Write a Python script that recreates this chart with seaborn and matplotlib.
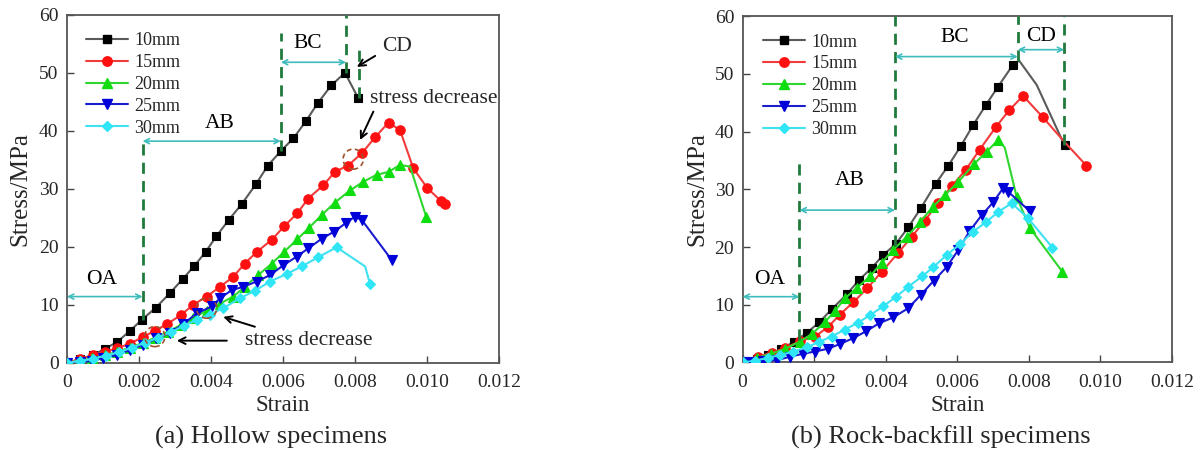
import matplotlib
matplotlib.use("Agg")
import matplotlib.pyplot as plt
from matplotlib.lines import Line2D
from matplotlib.patches import Ellipse
import seaborn as sns

# ---------------------------------------------------------------- data
series_names = ["10mm", "15mm", "20mm", "25mm", "30mm"]

# (a) hollow specimens
hollow_strain_10 = [0, 0.00036, 0.00071, 0.00106, 0.0014, 0.00175, 0.00208, 0.00247, 0.00286, 0.00321,
                    0.00354, 0.00385, 0.00415, 0.00449, 0.00486, 0.00525, 0.00558, 0.00594, 0.00629, 0.00663,
                    0.00697, 0.00734, 0.00772, 0.00809]
hollow_stress_10 = [0, 0.6, 1.3, 2.4, 3.6, 5.5, 7.4, 9.5, 12.0, 14.4,
                    16.7, 19.1, 21.8, 24.6, 27.4, 30.8, 34.0, 36.5, 38.7, 41.6,
                    44.8, 47.8, 50.0, 45.6]
hollow_strain_15 = [0, 0.00036, 0.00073, 0.00106, 0.0014, 0.00175, 0.0021, 0.00244, 0.00279, 0.00316,
                    0.00351, 0.00388, 0.00425, 0.0046, 0.00494, 0.00527, 0.00569, 0.00603, 0.0064, 0.0067,
                    0.00712, 0.00744, 0.00781, 0.0082, 0.00856, 0.00893, 0.00925, 0.00962, 0.01001, 0.0104,
                    0.0105]
hollow_stress_15 = [0, 0.6, 1.3, 1.9, 2.5, 3.3, 4.4, 5.5, 6.7, 8.2,
                    10.0, 11.4, 13.1, 14.7, 17.1, 19.1, 21.2, 23.5, 25.8, 28.3,
                    30.6, 32.9, 34.0, 36.2, 38.9, 41.4, 40.1, 33.5, 30.1, 27.8,
                    27.3]
hollow_strain_20 = [0, 0.00036, 0.0007, 0.00106, 0.0014, 0.00175, 0.0021, 0.00245, 0.0028, 0.00316,
                    0.0035, 0.00388, 0.00425, 0.00462, 0.00494, 0.00531, 0.00569, 0.00603, 0.0064, 0.00673,
                    0.00708, 0.00744, 0.00786, 0.00823, 0.0086, 0.00893, 0.00925, 0.00953, 0.00998]
hollow_stress_20 = [0, 0.3, 0.8, 1.3, 1.9, 2.6, 3.4, 4.3, 5.3, 6.5,
                    7.7, 9.0, 10.2, 11.4, 13.1, 15.1, 17.1, 19.1, 21.3, 23.3,
                    25.5, 27.6, 29.7, 31.2, 32.4, 32.9, 34.1, 33.8, 25.1]
hollow_strain_25 = [0, 0.00035, 0.00069, 0.00101, 0.00138, 0.00175, 0.00212, 0.00248, 0.00285, 0.00322,
                    0.0036, 0.00402, 0.00425, 0.00457, 0.0049, 0.00527, 0.00564, 0.00601, 0.00638, 0.0067,
                    0.00708, 0.00742, 0.00775, 0.008, 0.00819, 0.00902]
hollow_stress_25 = [0, 0.1, 0.3, 0.8, 1.3, 2.2, 3.1, 4.2, 5.1, 6.6,
                    8.5, 9.7, 11.1, 12.5, 13.1, 14.0, 15.1, 16.8, 18.3, 19.7,
                    21.4, 22.6, 24.1, 25.2, 24.6, 17.7]
hollow_strain_30 = [0, 0.00036, 0.00072, 0.00108, 0.00144, 0.0018, 0.00216, 0.00252, 0.00288, 0.00324,
                    0.0036, 0.00396, 0.00434, 0.0048, 0.00522, 0.00564, 0.0061, 0.00652, 0.00698, 0.00749,
                    0.00828, 0.00842]
hollow_stress_30 = [0, 0.3, 0.7, 1.2, 1.8, 2.6, 3.4, 4.3, 5.3, 6.3,
                    7.4, 8.3, 9.4, 11.1, 12.4, 14.0, 15.3, 16.6, 18.2, 19.9,
                    16.6, 13.5]

# (b) rock-backfill specimens
backfill_strain_10 = [0, 0.0004, 0.00072, 0.00108, 0.00144, 0.00179, 0.00215, 0.00249, 0.00291, 0.00326,
                      0.00361, 0.00393, 0.00429, 0.00463, 0.00498, 0.0054, 0.00575, 0.0061, 0.00645, 0.0068,
                      0.00714, 0.00756, 0.00773, 0.00822, 0.009]
backfill_stress_10 = [0, 0.6, 1.3, 2.3, 3.6, 5.1, 7.0, 9.2, 11.8, 14.3,
                      16.4, 18.6, 20.6, 23.4, 26.7, 31.0, 34.1, 37.5, 41.2, 44.6,
                      47.8, 51.6, 52.3, 48.1, 37.6]
backfill_strain_15 = [0, 0.00044, 0.00082, 0.00119, 0.00161, 0.00203, 0.0024, 0.00272, 0.00309, 0.00349,
                      0.00389, 0.00435, 0.00473, 0.0051, 0.00547, 0.00584, 0.00624, 0.00663, 0.00708, 0.00745,
                      0.00784, 0.00839, 0.009, 0.00961]
backfill_stress_15 = [0, 1.0, 1.7, 2.5, 3.7, 4.5, 6.2, 8.3, 10.4, 12.9,
                      15.7, 19.0, 21.8, 24.6, 27.7, 30.5, 33.4, 36.9, 40.8, 43.7,
                      46.2, 42.5, 38.2, 34.1]
backfill_strain_20 = [0, 0.0004, 0.0008, 0.0012, 0.0016, 0.00195, 0.0023, 0.00258, 0.00286, 0.00319,
                      0.00356, 0.00389, 0.00421, 0.00459, 0.00496, 0.00532, 0.00566, 0.00603, 0.00647, 0.00682,
                      0.00715, 0.00733, 0.00766, 0.00803, 0.00894]
backfill_stress_20 = [0, 0.8, 1.5, 2.4, 3.6, 5.0, 7.0, 8.9, 11.1, 12.9,
                      14.9, 17.3, 19.5, 21.8, 24.3, 27.0, 29.0, 31.3, 34.4, 36.5,
                      38.6, 37.2, 28.7, 23.3, 15.7]
backfill_strain_25 = [0, 0.0002, 0.00058, 0.00096, 0.00133, 0.00168, 0.00203, 0.0024, 0.00272, 0.00309,
                      0.00345, 0.00382, 0.00421, 0.00463, 0.00498, 0.00535, 0.0057, 0.00603, 0.00634, 0.00668,
                      0.00701, 0.00728, 0.00742, 0.00803]
backfill_stress_25 = [0, 0.1, 0.2, 0.4, 1.0, 1.5, 1.9, 2.4, 3.2, 4.2,
                      5.4, 6.8, 7.8, 9.4, 11.7, 14.2, 16.5, 19.5, 22.7, 25.5,
                      27.8, 30.2, 29.6, 26.2]
backfill_strain_30 = [0, 0.00035, 0.0007, 0.00106, 0.00142, 0.00179, 0.00215, 0.00249, 0.00286, 0.00323,
                      0.00356, 0.00393, 0.00429, 0.00463, 0.00501, 0.00533, 0.0057, 0.00608, 0.00643, 0.0068,
                      0.00715, 0.00752, 0.00798, 0.00866]
backfill_stress_30 = [0, 0.3, 0.8, 1.3, 1.9, 2.6, 3.6, 4.5, 5.7, 6.9,
                      8.2, 9.7, 11.4, 13.1, 14.9, 16.5, 18.6, 20.5, 22.6, 24.3,
                      26.1, 27.6, 25.0, 19.9]

# indices of curve points drawn without a marker
hollow_plain = [[], [], [27], [], [20]]
backfill_plain = [[22, 23], [22], [21], [], []]

x_ticks = [0, 0.002, 0.004, 0.006, 0.008, 0.010, 0.012]
x_tick_labels = ["0", "0.002", "0.004", "0.006", "0.008", "0.010", "0.012"]
y_ticks = [0, 10, 20, 30, 40, 50, 60]

# stage boundaries: (strain, lower stress, upper stress)
hollow_bounds = [(0.0021, 7.4, 39.0), (0.00594, 36.5, 56.8), (0.00775, 50.0, 60.0), (0.00811, 45.6, 54.6)]
backfill_bounds = [(0.00159, 3.9, 35.4), (0.00426, 20.1, 60.0), (0.00769, 52.3, 60.0), (0.00899, 37.6, 60.0)]
# stage spans: (label, start, end, arrow stress, label x, label y)
hollow_stages = [("OA", 0.0, 0.0021, 11.4, 0.00096, 14.3),
                 ("AB", 0.0021, 0.00594, 38.2, 0.00425, 41.3),
                 ("BC", 0.00594, 0.00775, 51.8, 0.0067, 55.0)]
backfill_stages = [("OA", 0.0, 0.00159, 11.4, 0.00077, 14.3),
                   ("AB", 0.00159, 0.00426, 26.4, 0.0030, 31.6),
                   ("BC", 0.00426, 0.00769, 53.0, 0.00594, 56.3),
                   ("CD", 0.00769, 0.00899, 54.2, 0.00834, 56.4)]

# ---------------------------------------------------------------- style
sns.set_theme(style="white")
plt.rcParams["font.family"] = ["Liberation Serif", "DejaVu Serif"]

line_colors = ["#5a5a5a", "#f23c3c", "#2fd62f", "#1c1ccf", "#3fe0f0"]
marker_colors = ["#000000", "#ff1010", "#10dd10", "#0000d8", "#30e6f6"]
marker_shapes = ["s", "o", "^", "v", "D"]
marker_sizes = [5.5, 6.8, 6.8, 6.8, 5.2]
bound_color = "#1f7a3c"
span_color = "#3fbcbc"
ring_color = "#a0522d"


def draw_panel(ax, strains, stresses, plain, bounds, stages, legend_x, ylabel_x):
    for i, name in enumerate(series_names):
        mask = [j not in plain[i] for j in range(len(strains[i]))]
        sns.lineplot(x=strains[i], y=stresses[i], ax=ax, sort=False, estimator=None,
                     color=line_colors[i], lw=1.5, marker=marker_shapes[i],
                     markersize=marker_sizes[i], markerfacecolor=marker_colors[i],
                     markeredgecolor=marker_colors[i], markeredgewidth=0.8,
                     markevery=mask, legend=False, zorder=3)
    handles = [Line2D([], [], color=line_colors[i], lw=1.5, marker=marker_shapes[i],
                      markersize=marker_sizes[i], markerfacecolor=marker_colors[i],
                      markeredgecolor=marker_colors[i]) for i in range(len(series_names))]
    ax.legend(handles, series_names, loc="upper left", bbox_to_anchor=(legend_x, 0.95),
              frameon=False, fontsize=13, handlelength=2.3, handletextpad=0.35,
              labelspacing=0.27, borderpad=0, borderaxespad=0)

    for x, lo, hi in bounds:
        ax.plot([x, x], [lo, hi], color=bound_color, lw=2, ls=(0, (4, 2.6)), zorder=4)
    for label, x0, x1, y, tx, ty in stages:
        ax.annotate("", xy=(x0, y), xytext=(x1, y),
                    arrowprops=dict(arrowstyle="<->", color=span_color, lw=1.2,
                                    shrinkA=0, shrinkB=0, mutation_scale=9), zorder=4)
        ax.text(tx, ty, label, ha="center", va="center", fontsize=15.5, color="black")

    ax.set_xlim(0, 0.012)
    ax.set_ylim(0, 60)
    ax.set_xticks(x_ticks)
    ax.set_xticklabels(x_tick_labels)
    ax.set_yticks(y_ticks)
    ax.tick_params(direction="in", length=5, width=1, labelsize=14, color="#444444",
                   bottom=True, left=True, top=False, right=False)
    ax.tick_params(axis="x", pad=8)
    ax.tick_params(axis="y", pad=6)
    for sp in ax.spines.values():
        sp.set_color("#555555")
        sp.set_linewidth(1.3)
    ax.set_xlabel("Strain", fontsize=16.5)
    ax.set_ylabel("Stress/MPa", fontsize=18)
    ax.xaxis.set_label_coords(0.5, -0.093)
    ax.yaxis.set_label_coords(ylabel_x, 0.5)


fig = plt.figure(figsize=(12.04, 4.5), dpi=100)
ax_a = fig.add_axes([0.0556, 0.194, 0.3589, 0.7733])
ax_b = fig.add_axes([0.6167, 0.1945, 0.3567, 0.7695])

draw_panel(ax_a,
           [hollow_strain_10, hollow_strain_15, hollow_strain_20, hollow_strain_25, hollow_strain_30],
           [hollow_stress_10, hollow_stress_15, hollow_stress_20, hollow_stress_25, hollow_stress_30],
           hollow_plain, hollow_bounds, hollow_stages, 0.045, -0.083)
draw_panel(ax_b,
           [backfill_strain_10, backfill_strain_15, backfill_strain_20, backfill_strain_25, backfill_strain_30],
           [backfill_stress_10, backfill_stress_15, backfill_stress_20, backfill_stress_25, backfill_stress_30],
           backfill_plain, backfill_bounds, backfill_stages, 0.048, -0.080)

# CD label of the hollow panel
ax_a.text(0.00916, 54.5, "CD", ha="center", va="center", fontsize=15.5)
ax_a.annotate("", xy=(0.00805, 51.0), xytext=(0.00856, 52.9),
              arrowprops=dict(arrowstyle="->", color="black", lw=1.4, shrinkA=0, shrinkB=0,
                              mutation_scale=12))

# local stress drops on the hollow curves
for cx, cy in [(0.00795, 35.1), (0.00244, 4.5), (0.00388, 9.4)]:
    ax_a.add_patch(Ellipse((cx, cy), 0.00056, 3.45, fill=False, ec=ring_color,
                           lw=1.2, ls=(0, (3, 2)), zorder=5))
ax_a.text(0.01018, 45.6, "stress decrease", ha="center", va="center", fontsize=15.5)
ax_a.annotate("", xy=(0.00814, 38.4), xytext=(0.00851, 43.3),
              arrowprops=dict(arrowstyle="->", color="black", lw=1.4, shrinkA=0, shrinkB=0,
                              mutation_scale=12))
ax_a.text(0.00672, 3.9, "stress decrease", ha="center", va="center", fontsize=15.5)
ax_a.annotate("", xy=(0.00305, 3.8), xytext=(0.00444, 3.8),
              arrowprops=dict(arrowstyle="->", color="black", lw=1.4, shrinkA=0, shrinkB=0,
                              mutation_scale=12))
ax_a.annotate("", xy=(0.00434, 7.9), xytext=(0.00522, 6.2),
              arrowprops=dict(arrowstyle="->", color="black", lw=1.4, shrinkA=0, shrinkB=0,
                              mutation_scale=12))

fig.text(271 / 1204, 1 - 437 / 450, "(a) Hollow specimens", ha="center", va="center", fontsize=19)
fig.text(941 / 1204, 1 - 437 / 450, "(b) Rock-backfill specimens", ha="center", va="center", fontsize=19)

fig.savefig("out.png", dpi=100)
